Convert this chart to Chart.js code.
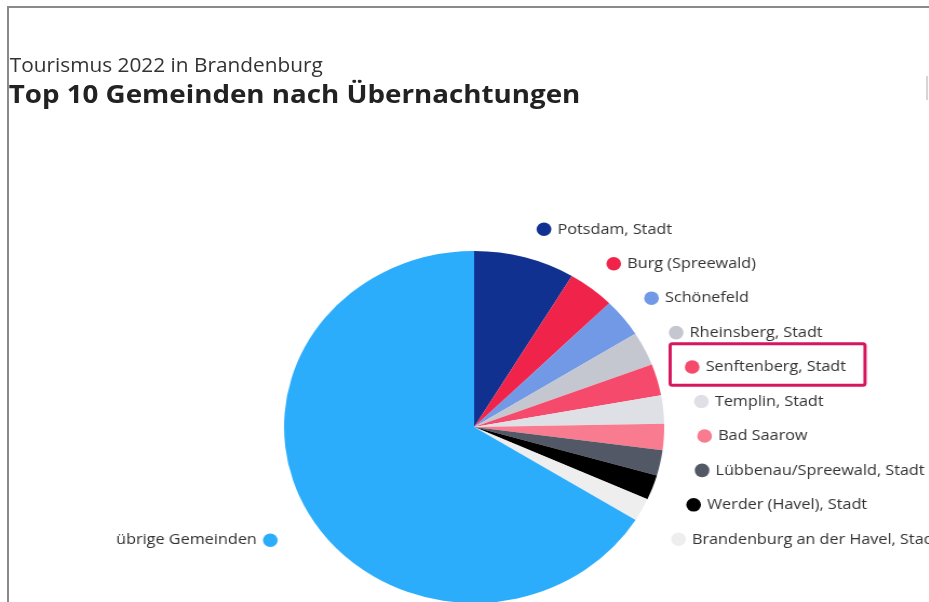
<!DOCTYPE html>
<html lang="de">
<head>
<meta charset="utf-8">
<title>Tourismus 2022 in Brandenburg</title>
<script src="https://cdn.jsdelivr.net/npm/chart.js@4.4.1/dist/chart.umd.min.js"></script>
<style>
  html, body { margin: 0; padding: 0; background: #fff; overflow: hidden; }
  body { width: 929px; height: 602px; position: relative; }
  .frame {
    position: absolute; left: 7px; top: 6px; right: -10px; bottom: -10px;
    border-left: 2px solid #8a8a8a; border-top: 2px solid #8a8a8a;
  }
  .edge { position: absolute; left: 926px; top: 76px; width: 2px; height: 24px; background: #d6d6d6; }
  .stretch {
    position: absolute; left: 0; top: 0; width: 860px; height: 660px;
    transform: scaleX(1.08); transform-origin: 0 0;
  }
  .sub {
    position: absolute; left: 9px; top: 51px;
    font: 19.3px "Open Sans", sans-serif; color: #333; white-space: nowrap;
  }
  .title {
    position: absolute; left: 8px; top: 76px;
    font: bold 25.7px "Open Sans", sans-serif; color: #222; white-space: nowrap;
  }
  canvas { position: absolute; left: 0; top: 0; }
</style>
</head>
<body>
<div class="frame"></div>
<div class="edge"></div>
<div class="stretch">
  <div class="sub">Tourismus 2022 in Brandenburg</div>
  <div class="title">Top 10 Gemeinden nach Übernachtungen</div>
  <canvas id="chart" width="860" height="660"></canvas>
</div>
<script>
// Übernachtungen 2022 (in Tausend)
const gemeinden = [
  "Potsdam, Stadt",
  "Burg (Spreewald)",
  "Schönefeld",
  "Rheinsberg, Stadt",
  "Senftenberg, Stadt",
  "Templin, Stadt",
  "Bad Saarow",
  "Lübbenau/Spreewald, Stadt",
  "Werder (Havel), Stadt",
  "Brandenburg an der Havel, Stadt",
  "übrige Gemeinden"
];
const uebernachtungen = [1160, 540, 475, 420, 390, 350, 325, 315, 310, 285, 8930];
const farben = [
  "#10318f", "#f0244a", "#7199e6", "#c4c7cf", "#f54a6b", "#dfe0e6",
  "#f87b90", "#525866", "#000000", "#eeeeee", "#2badfc"
];
const markiert = "Senftenberg, Stadt";

// labels next to the pie, stacked on an ellipse like the original
const sideLabels = {
  id: "sideLabels",
  afterDraw(chart) {
    const ctx = chart.ctx;
    const meta = chart.getDatasetMeta(0);
    const cx = meta.data[0].x;
    const cy = meta.data[0].y;
    const ax = 213.4, by = 219, yOff = 11;
    const last = meta.data.length - 1;

    ctx.save();
    ctx.font = '15px "Open Sans", sans-serif';
    ctx.textBaseline = "middle";

    meta.data.forEach((arc, i) => {
      let y, dir;
      if (i < last) {
        y = cy - 197.7 + i * 34.44;
        dir = 1;
      } else {
        const mid = (arc.startAngle + arc.endAngle) / 2;
        y = cy + Math.sin(mid) * 233;
        dir = Math.cos(mid) < 0 ? -1 : 1;
      }
      const t = (y - cy - yOff) / by;
      const x = cx + dir * ax * Math.sqrt(Math.max(0, 1 - t * t));

      ctx.beginPath();
      ctx.arc(x, y, 6.8, 0, Math.PI * 2);
      ctx.fillStyle = farben[i];
      ctx.fill();

      ctx.fillStyle = "#333";
      ctx.textAlign = dir > 0 ? "left" : "right";
      const tx = x + dir * 12.5;
      ctx.fillText(gemeinden[i], tx, y);

      if (gemeinden[i] === markiert) {
        const w = ctx.measureText(gemeinden[i]).width;
        const left = x - 20.4;
        const right = tx + w + 17.6;
        ctx.beginPath();
        ctx.roundRect(left, y - 23.4, right - left, 41.7, 2);
        ctx.lineWidth = 3;
        ctx.strokeStyle = "#d6175e";
        ctx.stroke();
      }
    });
    ctx.restore();
  }
};

new Chart(document.getElementById("chart"), {
  type: "pie",
  data: {
    labels: gemeinden,
    datasets: [{
      data: uebernachtungen,
      backgroundColor: farben,
      borderWidth: 0
    }]
  },
  options: {
    responsive: false,
    animation: false,
    layout: { padding: { left: 263, right: 245, top: 251, bottom: 57 } },
    plugins: {
      legend: { display: false },
      tooltip: { enabled: false }
    }
  },
  plugins: [sideLabels]
});
</script>
</body>
</html>
